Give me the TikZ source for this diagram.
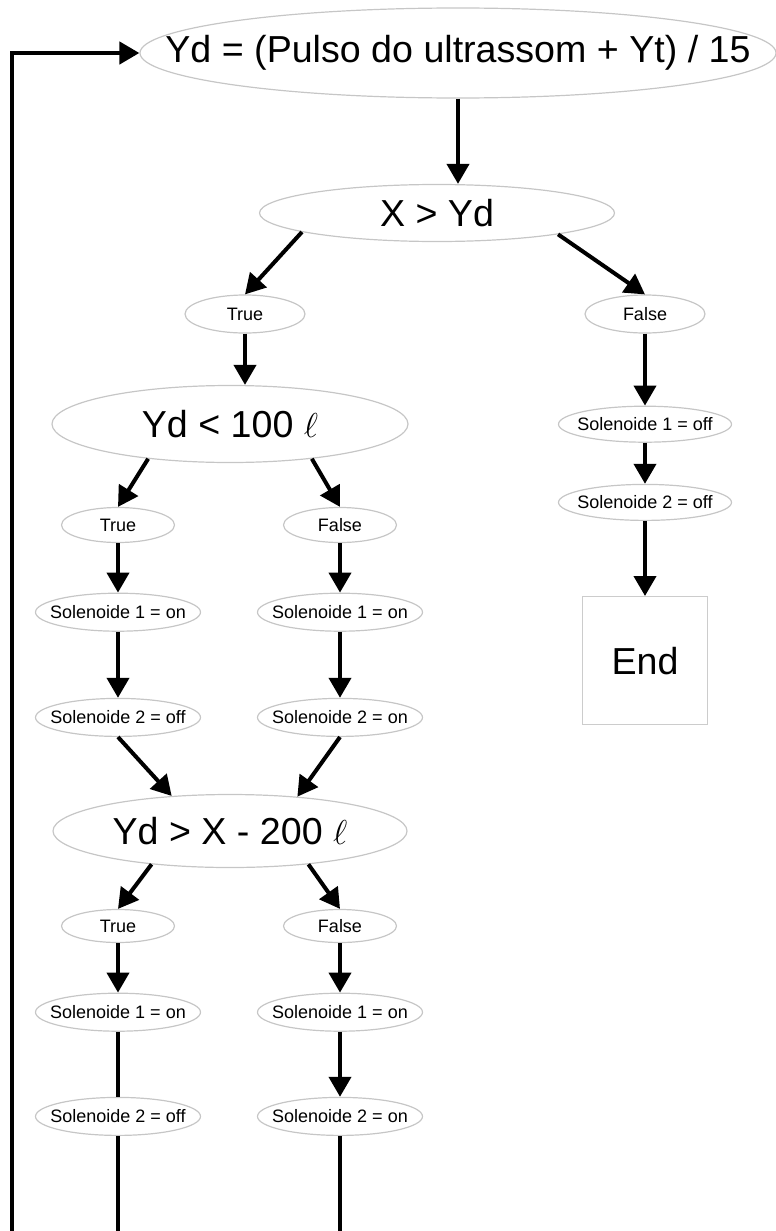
\documentclass[tikz,border=0pt]{standalone}
\usepackage{fontspec}
\setmainfont{Liberation Sans}
\usetikzlibrary{arrows.meta,positioning,shapes.geometric}
\newcommand\zbox[1]{\makebox[0pt]{#1}}

\begin{document}
\begin{tikzpicture}[x=0.5pt, y=-0.5pt, >={Triangle[length=10pt,width=11pt]},
	  dec/.style={ellipse, draw=gray!45, line width=.6pt, inner sep=0pt, font=\fontsize{18.8}{22}\selectfont},
	  res/.style={dec, font=\fontsize{9}{11}\selectfont},
	  yn/.style={res, minimum width=56.5pt, minimum height=17.5pt},
	  sol/.style={res, minimum width=82.5pt, minimum height=19pt},
	  arr/.style={->, line width=2pt}]
	  \useasboundingbox (0,0) rectangle (776,1231);
	  \node[dec, minimum width=318pt, minimum height=45pt] (yd) at (458,53) {\zbox{Yd = (Pulso do ultrassom + Yt) / 15}};
	  \node[dec, minimum width=177.5pt, minimum height=28.5pt] (cmp) at (437,213) {\zbox{X > Yd}};
	  \node[yn, minimum width=60pt, minimum height=19pt] (t1) at (245,314) {\zbox{True}};
	  \node[yn, minimum width=60pt, minimum height=19pt] (f1) at (645,314) {\zbox{False}};
	  \node[dec, minimum width=178pt, minimum height=38.5pt] (lvl) at (230,424) {\zbox{Yd < 100 $\ell$}};
	  \node[yn] (t2) at (118,525) {\zbox{True}};
	  \node[yn] (f2) at (340,525) {\zbox{False}};
	  \node[sol, below=24.75pt of t2] (a1) {\zbox{Solenoide 1 = on}};
	  \node[sol, below=33pt of a1] (a2) {\zbox{Solenoide 2 = off}};
	  \node[sol, below=24.75pt of f2] (b1) {\zbox{Solenoide 1 = on}};
	  \node[sol, below=33pt of b1] (b2) {\zbox{Solenoide 2 = on}};
	  \node[dec, minimum width=177pt, minimum height=36.5pt] (chk) at (230,831) {\zbox{Yd > X - 200 $\ell$}};
	  \node[yn, minimum height=16.5pt] (t3) at (118,926) {\zbox{True}};
	  \node[yn, minimum height=16.5pt] (f3) at (340,926) {\zbox{False}};
	  \node[sol, below=24.75pt of t3] (a3) {\zbox{Solenoide 1 = on}};
	  \node[sol, below=32.5pt of a3] (a4) {\zbox{Solenoide 2 = off}};
	  \node[sol, below=24.75pt of f3] (b3) {\zbox{Solenoide 1 = on}};
	  \node[sol, below=32.5pt of b3] (b4) {\zbox{Solenoide 2 = on}};
	  \node[sol, minimum width=86.5pt, minimum height=18pt, below=36pt of f1] (r1) {\zbox{Solenoide 1 = off}};
	  \node[sol, minimum width=86.5pt, minimum height=18pt, below=20.5pt of r1] (r2) {\zbox{Solenoide 2 = off}};
	  \node[draw=gray!40, line width=.6pt, minimum width=62.5pt, minimum height=64pt, font=\fontsize{18.8}{22}\selectfont, below=37.5pt of r2] (stop) {End};
	  \coordinate (back) at (12,1231);
	  \coordinate (endl) at (118,1231);
	  \coordinate (endr) at (340,1231);

	  \draw[arr] (yd.south) -- (yd.south |- cmp.north);
	  \draw[arr] (cmp.188) -- (t1.north);
	  \draw[arr] (cmp.-10) -- (f1.north);
	  \draw[arr] (t1) -- (t1 |- lvl.north);
	  \draw[arr] (lvl.203) -- (t2.north);
	  \draw[arr] (lvl.-23) -- (f2.north);
	  \draw[arr] (t2) -- (a1);
	  \draw[arr] (a1) -- (a2);
	  \draw[arr] (f2) -- (b1);
	  \draw[arr] (b1) -- (b2);
	  \draw[arr] (a2.south) -- (chk.149);
	  \draw[arr] (b2.south) -- (chk.27);
	  \draw[arr] (chk.203) -- (t3.north);
	  \draw[arr] (chk.-23) -- (f3.north);
	  \draw[arr] (t3) -- (a3);
	  \draw[line width=2pt] (a3) -- (a4);
	  \draw[arr] (f3) -- (b3);
	  \draw[arr] (b3) -- (b4);
	  \draw[line width=2pt] (a4) -- (endl);
	  \draw[line width=2pt] (b4) -- (endr);
	  \draw[arr] (f1) -- (r1);
	  \draw[arr] (r1) -- (r2);
	  \draw[arr] (r2) -- (stop);
	  \draw[arr, line width=2.2pt] (back) |- (yd.west);
	\end{tikzpicture}
\end{document}
